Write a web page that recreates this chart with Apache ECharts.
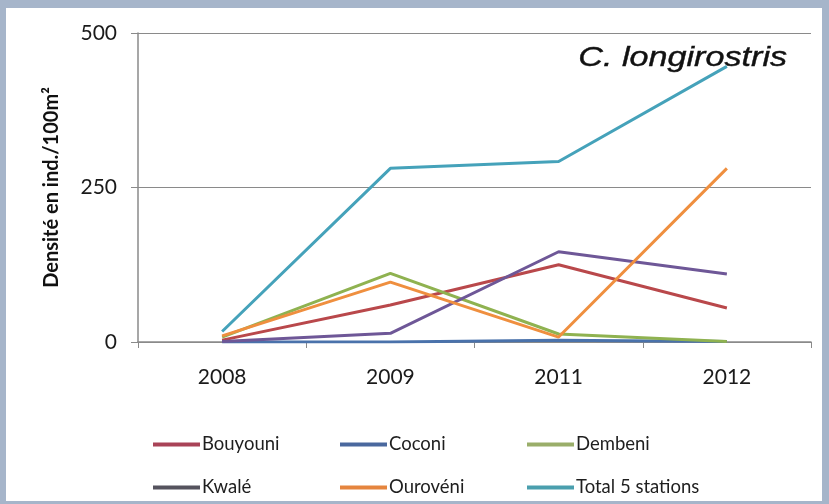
<!DOCTYPE html>
<html>
<head>
<meta charset="utf-8">
<script src="https://cdn.jsdelivr.net/npm/echarts@6/dist/echarts.min.js"></script>
<style>
html,body{margin:0;padding:0;width:829px;height:504px;background:#a6b5ca;overflow:hidden;}
#panel{position:absolute;left:6px;top:8px;width:816px;height:493px;background:#ffffff;}
#chart{position:absolute;left:0;top:0;width:829px;height:504px;}
</style>
</head>
<body>
<div id="panel"></div>
<div id="chart"></div>
<script>
const years = ['2008', '2009', '2011', '2012'];
const seriesNames = ['Bouyouni', 'Coconi', 'Dembeni', 'Kwalé', 'Ourovéni', 'Total 5 stations'];
const bouyouni = [3, 60, 125, 55];
const coconi = [0, 0, 3, 1];
const dembeni = [8, 111, 13, 1];
const kwale = [1, 14, 146, 110];
const ouroveni = [10, 97, 8, 281];
const total = [17, 281, 292, 446];
const yTicks = [0, 250, 500];
const chartTitle = 'C. longirostris';
const yName = 'Densité en ind./100m²';

const values = [bouyouni, coconi, dembeni, kwale, ouroveni, total];
const colors = ['#b9484b', '#4a72ab', '#8fb250', '#6e5797', '#ef8f3f', '#45a2ba'];
const legendColors = ['#a94357', '#4a689e', '#9aae6a', '#55535e', '#e5853e', '#4a9fae'];

const chart = echarts.init(document.getElementById('chart'), null, {renderer: 'canvas'});
const font = 'Lato, "Open Sans", sans-serif';

function legendFor(idx, left) {
  return {
    orient: 'vertical',
    left: left,
    top: 430,
    itemGap: 24,
    itemWidth: 47,
    itemHeight: 14,
    selectedMode: false,
    textStyle: {fontFamily: font, fontSize: 18.5, lineHeight: 14, color: '#1e1e1e', padding: [0, 0, 0, -3]},
    data: idx.map(i => ({
      name: seriesNames[i],
      icon: 'path://M0,0 L47,0 L47,4 L0,4 Z',
      itemStyle: {color: legendColors[i]}
    }))
  };
}

chart.setOption({
  animation: false,
  backgroundColor: 'transparent',
  graphic: [{
    type: 'text',
    left: 578,
    top: 44,
    scaleX: 1.22,
    style: {
      text: chartTitle,
      font: 'italic 28px "Liberation Sans", Arial, sans-serif',
      fill: '#111',
      stroke: '#111',
      lineWidth: 0.4
    }
  }],
  legend: [legendFor([0, 3], 148), legendFor([1, 4], 335), legendFor([2, 5], 522)],
  grid: {left: 138, right: 18, top: 33, bottom: 162, containLabel: false},
  xAxis: {
    type: 'category',
    data: years,
    boundaryGap: true,
    axisLine: {lineStyle: {color: '#8a8a8a', width: 1.5}},
    axisTick: {show: true, length: 6, inside: false, lineStyle: {color: '#8a8a8a'}},
    axisLabel: {fontFamily: font, fontSize: 21, color: '#1a1a1a', margin: 25},
    splitLine: {show: false}
  },
  yAxis: {
    type: 'value',
    min: yTicks[0],
    max: yTicks[yTicks.length - 1],
    interval: 250,
    name: yName,
    nameLocation: 'middle',
    nameGap: 76,
    nameRotate: 90,
    nameTextStyle: {fontFamily: font, fontSize: 20, fontWeight: 'bold', color: '#111'},
    axisLine: {show: true, lineStyle: {color: '#8a8a8a', width: 1.5}},
    axisTick: {show: true, length: 7, lineStyle: {color: '#8a8a8a'}},
    axisLabel: {fontFamily: font, fontSize: 21, color: '#1a1a1a', margin: 21},
    splitLine: {show: true, lineStyle: {color: '#8a8a8a', width: 1.2}}
  },
  series: seriesNames.map((n, i) => ({
    name: n,
    type: 'line',
    data: values[i],
    symbol: 'none',
    showSymbol: false,
    lineStyle: {width: 3, color: colors[i]},
    itemStyle: {color: colors[i]},
    z: 2 + (i === 4 ? 6 : i)
  }))
});
</script>
</body>
</html>
